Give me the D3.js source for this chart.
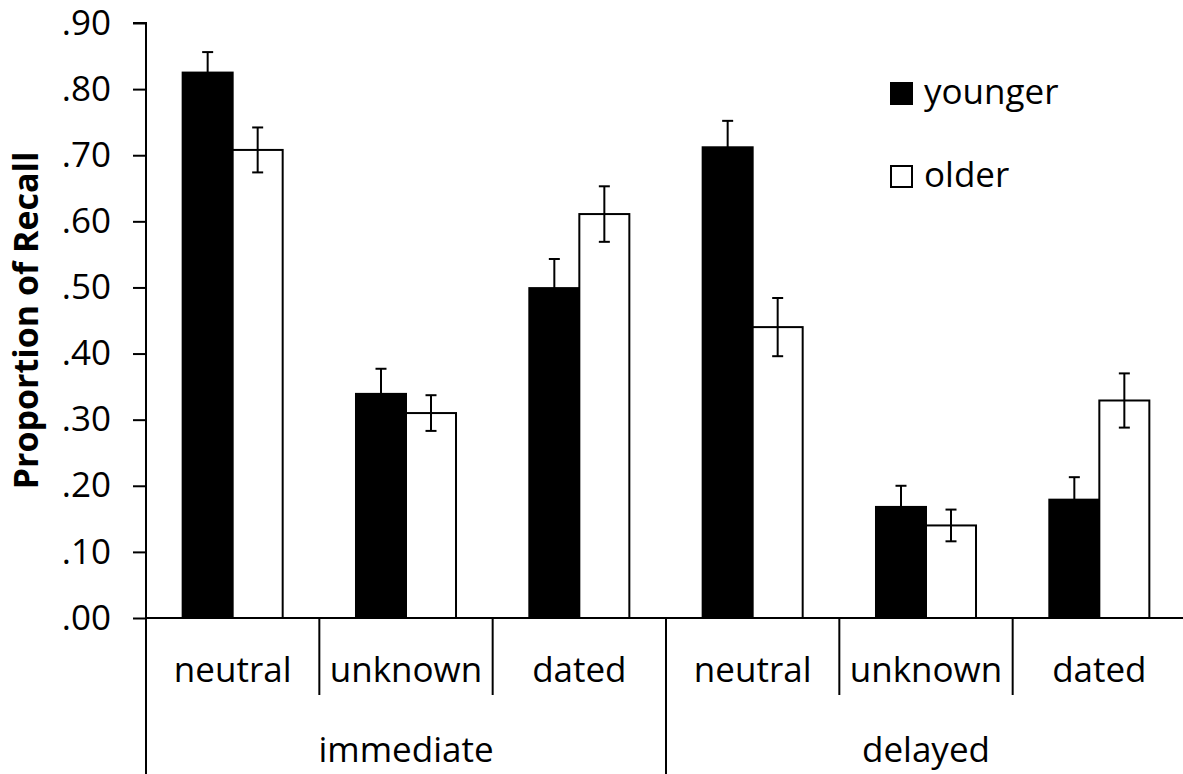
<!DOCTYPE html>
<html lang="en">
<head>
    <meta charset="UTF-8">
    <title>Proportion of Recall</title>
    <script src="https://d3js.org/d3.v7.min.js"></script>
    <style>
        body { margin: 0; background: #fff; }
        svg { display: block; font-family: "Open Sans", sans-serif; }
    </style>
</head>
<body>
    <svg id="chart" width="1183" height="774"></svg>
    <script>
        // data
        const delays = ["immediate", "delayed"];
        const types = ["neutral", "unknown", "dated"];
        const series = ["younger", "older"];
        const younger = [0.825, 0.339, 0.499, 0.712, 0.168, 0.179];
        const older = [0.708, 0.310, 0.611, 0.440, 0.140, 0.329];
        const youngerErr = [0.031, 0.038, 0.044, 0.040, 0.032, 0.034];
        const olderErr = [0.034, 0.027, 0.042, 0.044, 0.024, 0.041];
        const yTicks = [0, 0.1, 0.2, 0.3, 0.4, 0.5, 0.6, 0.7, 0.8, 0.9];

        const margin = {top: 23, right: 0, bottom: 156, left: 146};
        const W = 1183, H = 774;
        const plotRight = 1186;
        const svg = d3.select("#chart");

        // one cell per delay x type
        const cells = [];
        delays.forEach(d => types.forEach(t => cells.push(d + "|" + t)));

        const x0 = d3.scaleBand().domain(cells).range([margin.left, plotRight]).padding(0);
        const x1 = d3.scaleBand().domain(series).range([0, x0.bandwidth()]).paddingInner(0).paddingOuter(0.733);
        const y = d3.scaleLinear().domain([0, 0.9]).range([H - margin.bottom, margin.top]);

        const rows = cells.map((c, i) => ({
            cell: c,
            vals: [
                {s: "younger", v: younger[i], e: youngerErr[i]},
                {s: "older", v: older[i], e: olderErr[i]}
            ]
        }));

        // y axis
        const yAxis = d3.axisLeft(y).tickValues(yTicks)
            .tickFormat(d => d3.format(".2f")(d).replace(/^0/, ""))
            .tickSize(13).tickPadding(22);
        const ga = svg.append("g").attr("transform", `translate(${margin.left},0)`).call(yAxis);
        ga.select(".domain").attr("stroke", "#000").attr("stroke-width", 2)
            .attr("d", `M-13,${y(0.9)}H0V${y(0)}`);
        ga.selectAll(".tick line").attr("stroke", "#000").attr("stroke-width", 2);
        ga.selectAll(".tick text").attr("font-size", 35).attr("fill", "#000")
            .attr("font-family", "Open Sans, sans-serif");

        // bars
        const groups = svg.append("g").selectAll("g").data(rows).join("g")
            .attr("transform", d => `translate(${x0(d.cell)},0)`);

        groups.selectAll("rect").data(d => d.vals).join("rect")
            .attr("x", d => x1(d.s))
            .attr("y", d => y(d.v))
            .attr("width", x1.bandwidth())
            .attr("height", d => y(0) - y(d.v))
            .attr("fill", d => d.s === "younger" ? "#000" : "#fff")
            .attr("stroke", "#000")
            .attr("stroke-width", 2);

        // error bars
        const cap = 5.5;
        const eb = groups.selectAll("g.err").data(d => d.vals).join("g").attr("class", "err")
            .attr("stroke", "#000").attr("stroke-width", 2);
        eb.append("line")
            .attr("x1", d => x1(d.s) + x1.bandwidth() / 2).attr("x2", d => x1(d.s) + x1.bandwidth() / 2)
            .attr("y1", d => y(d.v + d.e)).attr("y2", d => y(d.s === "younger" ? d.v : d.v - d.e));
        eb.append("line")
            .attr("x1", d => x1(d.s) + x1.bandwidth() / 2 - cap).attr("x2", d => x1(d.s) + x1.bandwidth() / 2 + cap)
            .attr("y1", d => y(d.v + d.e)).attr("y2", d => y(d.v + d.e));
        eb.filter(d => d.s === "older").append("line")
            .attr("x1", d => x1(d.s) + x1.bandwidth() / 2 - cap).attr("x2", d => x1(d.s) + x1.bandwidth() / 2 + cap)
            .attr("y1", d => y(d.v - d.e)).attr("y2", d => y(d.v - d.e));

        // x axis baseline
        svg.append("line")
            .attr("x1", margin.left).attr("x2", plotRight)
            .attr("y1", y(0)).attr("y2", y(0))
            .attr("stroke", "#000").attr("stroke-width", 2);

        // separators between cells (short) and between delays (long)
        const bounds = cells.map(c => x0(c));
        svg.append("g").selectAll("line").data(bounds).join("line")
            .attr("x1", d => d).attr("x2", d => d)
            .attr("y1", y(0))
            .attr("y2", (d, i) => i % types.length === 0 ? H : y(0) + 77)
            .attr("stroke", "#000").attr("stroke-width", 2);

        // category labels
        svg.append("g").selectAll("text").data(cells).join("text")
            .attr("x", d => x0(d) + x0.bandwidth() / 2)
            .attr("y", y(0) + 64)
            .attr("text-anchor", "middle")
            .attr("font-size", 35)
            .text(d => d.split("|")[1]);

        svg.append("g").selectAll("text").data(delays).join("text")
            .attr("x", d => (x0(d + "|" + types[0]) + x0(d + "|" + types[2]) + x0.bandwidth()) / 2)
            .attr("y", y(0) + 144)
            .attr("text-anchor", "middle")
            .attr("font-size", 35)
            .text(d => d);

        // y title
        svg.append("text")
            .attr("transform", `translate(38,${(y(0) + y(0.9)) / 2}) rotate(-90)`)
            .attr("text-anchor", "middle")
            .attr("font-size", 34)
            .attr("font-weight", "bold")
            .text("Proportion of Recall");

        // legend
        const legend = svg.append("g").selectAll("g").data(series).join("g")
            .attr("transform", (d, i) => `translate(891,${83 + i * 83})`);
        legend.append("rect")
            .attr("width", 21).attr("height", 21)
            .attr("fill", d => d === "younger" ? "#000" : "#fff")
            .attr("stroke", "#000").attr("stroke-width", 2);
        legend.append("text")
            .attr("x", 33).attr("y", 21)
            .attr("font-size", 35)
            .text(d => d);
    </script>
</body>
</html>
